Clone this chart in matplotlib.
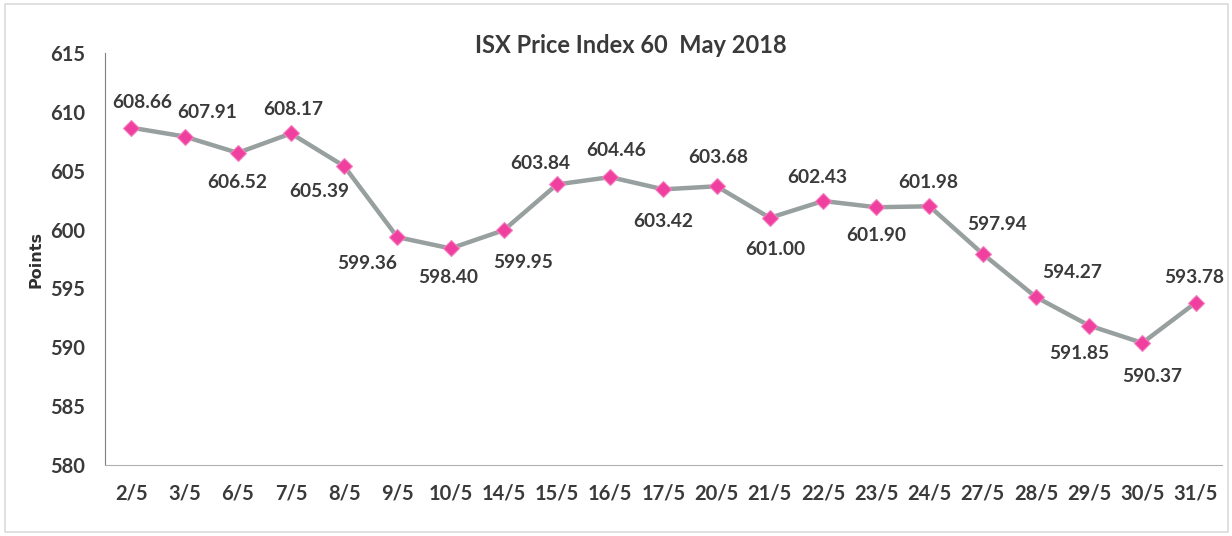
import matplotlib.pyplot as plt
from matplotlib.patches import Rectangle

dates = ['2/5', '3/5', '6/5', '7/5', '8/5', '9/5', '10/5', '14/5', '15/5', '16/5', '17/5',
         '20/5', '21/5', '22/5', '23/5', '24/5', '27/5', '28/5', '29/5', '30/5', '31/5']
index_values = [608.66, 607.91, 606.52, 608.17, 605.39, 599.36, 598.40, 599.95, 603.84, 604.46, 603.42,
                603.68, 601.00, 602.43, 601.90, 601.98, 597.94, 594.27, 591.85, 590.37, 593.78]
y_ticks = [580, 585, 590, 595, 600, 605, 610, 615]

# label offsets in points (dx, dy)
label_offsets = [(8, 18), (16, 17), (0, -21), (2, 17), (-18, -18), (-22, -19), (-2, -21),
                 (14, -23), (-12, 15), (4, 19), (0, -23), (1, 21), (4, -23), (-4, 17),
                 (0, -20), (-1, 17), (10, 21), (26, 18), (-7, -20), (7, -24), (-1, 18)]

txt = '#3a3a3a'
plt.rcParams['font.family'] = ['Lato', 'DejaVu Sans']

fig = plt.figure(figsize=(12.32, 5.36), dpi=100)
ax = fig.add_axes([0.085, 0.1325, 0.907, 0.7685])

x = list(range(len(dates)))
ax.plot(x, index_values, color='#979f9f', lw=3.2, marker='D', markersize=8.5,
        markerfacecolor='#f0409f', markeredgecolor='#f57fc0', markeredgewidth=0.8, zorder=3)

for i, v in enumerate(index_values):
    dx, dy = label_offsets[i]
    ax.annotate(f'{v:.2f}', (i, v), xytext=(dx, dy), textcoords='offset points',
                ha='center', va='center', fontsize=13.8, fontweight='bold', color=txt)

ax.set_xlim(-0.5, len(dates) - 0.5)
ax.set_ylim(580, 615)
ax.set_yticks(y_ticks)
ax.set_xticks(x)
ax.set_xticklabels(dates)
ax.tick_params(length=0, labelsize=14.5, labelcolor=txt, pad=13)
ax.tick_params(axis='y', pad=14)
for lab in ax.get_xticklabels() + ax.get_yticklabels():
    lab.set_fontweight('bold')

for s in ['top', 'right']:
    ax.spines[s].set_visible(False)
ax.spines['left'].set_color('#7f7f7f')
ax.spines['bottom'].set_color('#b0b0b0')

ax.set_ylabel('Points', fontsize=11.5, fontweight='bold', color='#303030',
              family='DejaVu Sans', labelpad=5)

fig.text(0.512, 0.916, 'ISX Price Index 60  May 2018', ha='center', va='center',
         fontsize=17, fontweight='bold', color=txt)

fig.patches.append(Rectangle((0.004, 0.008), 0.993, 0.985, transform=fig.transFigure,
                             fill=False, edgecolor='#dcdcdc', lw=1.2))

fig.savefig('out.png', dpi=100)
